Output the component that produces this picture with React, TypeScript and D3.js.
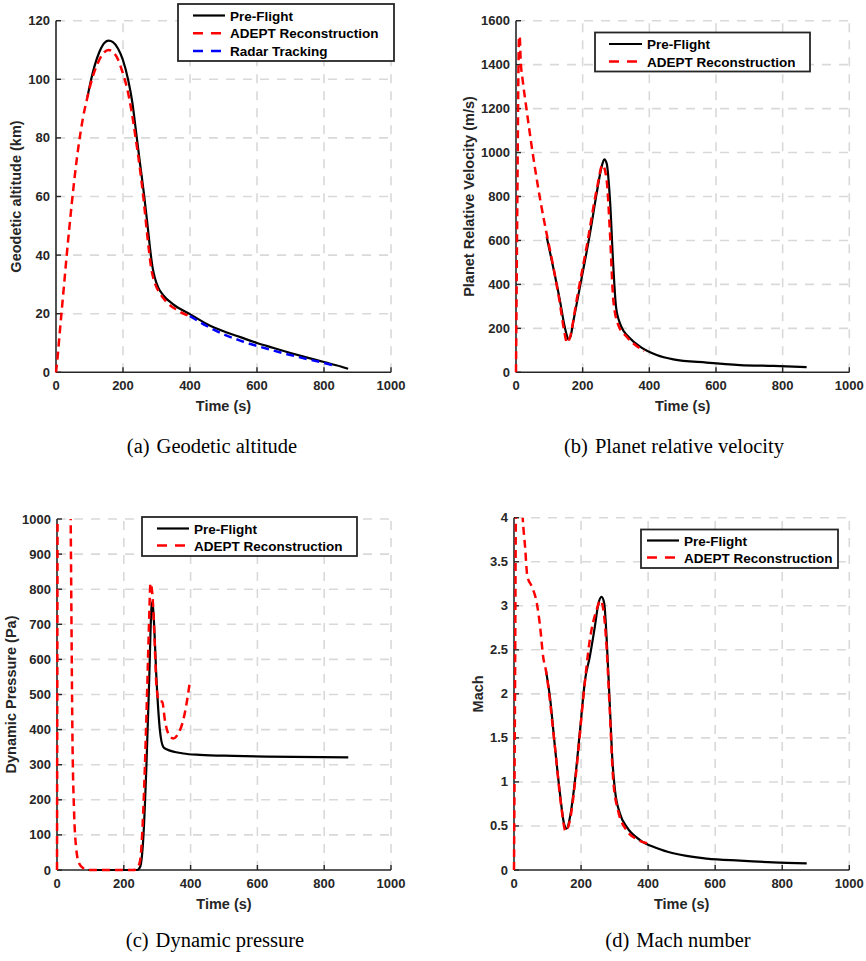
import React from 'react';
import * as d3 from 'd3';

type Pt = [number, number];

// ---------- Data ----------
const timeTicks = [0, 200, 400, 600, 800, 1000];
const altTicks = [0, 20, 40, 60, 80, 100, 120];
const velTicks = [0, 200, 400, 600, 800, 1000, 1200, 1400, 1600];
const presTicks = [0, 100, 200, 300, 400, 500, 600, 700, 800, 900, 1000];
const machTicks = [0, 0.5, 1, 1.5, 2, 2.5, 3, 3.5, 4];

const seriesNames = ['Pre-Flight', 'ADEPT Reconstruction', 'Radar Tracking'];

const altPreFlight: Pt[] = [
  [94, 94], [105, 100], [115, 104.5], [130, 109.5], [145, 112.5], [157, 113.2], [170, 112.7],
  [185, 110.5], [200, 106.5], [215, 100], [228, 92], [238, 83], [250, 72], [263, 60.5], [273, 50.5],
  [281, 42], [288, 36], [295, 32.3], [305, 29], [320, 26.3], [350, 23.2], [402, 19.7], [450, 16.5],
  [500, 14], [550, 12], [600, 10], [650, 8.3], [700, 6.6], [750, 5], [800, 3.5], [850, 2], [872, 1.2],
];
const altAdept: Pt[] = [
  [0, 0], [5, 5.5], [10, 12], [17, 21], [25, 31], [32, 40], [40, 49.5], [47, 57.5], [57, 68],
  [67, 77], [80, 86.5], [94, 94], [108, 100.3], [122, 104.8], [140, 108.7], [157, 110], [170, 109.3],
  [182, 107.5], [197, 103], [212, 97], [225, 89.5], [237, 80.5], [250, 70], [261, 59.5], [270, 49.5],
  [278, 41], [285, 35], [295, 30.5], [310, 27], [330, 24], [362, 21.2], [402, 19],
];
const altRadar: Pt[] = [
  [400, 19.2], [450, 15.8], [500, 13], [550, 10.8], [600, 9], [650, 7.4], [700, 5.9], [750, 4.5],
  [800, 3.2], [838, 2.1],
];

const velPreFlight: Pt[] = [
  [92, 617], [112, 475], [132, 325], [145, 215], [152, 170], [157, 150], [163, 160], [172, 232],
  [192, 390], [222, 632], [242, 814], [257, 936], [265, 969], [272, 951], [282, 784], [292, 481],
  [300, 299], [312, 223], [342, 155], [372, 117], [422, 79], [472, 59], [572, 44], [672, 33],
  [772, 29], [872, 24],
];
const velAdept: Pt[] = [
  [0, 0], [4, 780], [9, 1520], [11, 1530], [14, 1420], [20, 1330], [30, 1215], [45, 1050],
  [60, 900], [75, 765], [92, 630], [112, 480], [132, 310], [145, 185], [153, 135], [162, 160],
  [182, 329], [212, 572], [242, 830], [260, 943], [272, 875], [282, 632], [292, 329], [307, 215],
  [332, 162], [372, 109], [385, 97],
];

const presPreFlight: Pt[] = [
  [94, 0], [240, 0], [249, 9], [258, 85], [268, 304], [276, 541], [283, 750], [286, 764],
  [290, 712], [298, 541], [308, 399], [318, 351], [328, 344], [378, 332], [428, 328], [528, 325],
  [628, 323], [872, 321],
];
const presAdept: Pt[] = [
  [0, 0], [1, 600], [2, 1200], [10, 3000], [30, 3000], [38, 1400], [41, 1000], [43, 750],
  [46, 400], [51, 170], [57, 66], [66, 19], [79, 5], [95, 0], [229, 0], [240, 5], [249, 28],
  [258, 161], [268, 446], [275, 684], [280, 817], [286, 779], [291, 684], [298, 522], [306, 480],
  [315, 480], [323, 427], [333, 389], [348, 375], [363, 389], [378, 427], [388, 475], [398, 537],
];

const machPreFlight: Pt[] = [
  [95, 2.27], [107, 1.97], [122, 1.4], [137, 0.87], [149, 0.53], [157, 0.47], [167, 0.6],
  [182, 1.02], [197, 1.59], [212, 2.16], [226, 2.42], [241, 2.76], [251, 3.01], [261, 3.1],
  [269, 3.03], [276, 2.65], [286, 1.85], [294, 1.21], [301, 0.91], [316, 0.64], [336, 0.49],
  [376, 0.34], [425, 0.25], [475, 0.19], [575, 0.13], [674, 0.106], [773, 0.087], [873, 0.076],
];
const machAdept: Pt[] = [
  [0, 0], [3, 2], [6, 4.2], [12, 4.6], [20, 4.5], [26, 4.0], [33, 3.67], [40, 3.33], [53, 3.22],
  [68, 3.03], [78, 2.76], [87, 2.42], [95, 2.27], [122, 1.4], [141, 0.72], [154, 0.44], [167, 0.57],
  [187, 1.17], [207, 1.97], [226, 2.61], [246, 2.95], [258, 3.06], [266, 2.97], [276, 2.54],
  [286, 1.78], [296, 1.02], [310, 0.68], [336, 0.45], [366, 0.35], [400, 0.3],
];

const xLabel = 'Time (s)';
const yLabels = ['Geodetic altitude (km)', 'Planet Relative Velocity (m/s)', 'Dynamic Pressure (Pa)', 'Mach'];
const captionTags = ['(a)', '(b)', '(c)', '(d)'];
const captions = ['Geodetic altitude', 'Planet relative velocity', 'Dynamic pressure', 'Mach number'];

// ---------- Styles ----------
const SANS = '"Liberation Sans", Arial, Helvetica, sans-serif';
const SERIF = '"Liberation Serif", "Times New Roman", serif';
const AXIS = '#262626';
const GRID = '#d9d9d9';

const STYLE = [
  { color: '#000000', dash: undefined as string | undefined, width: 2.2, legDash: undefined as string | undefined },
  { color: '#ff0000', dash: '8,5', width: 2.5, legDash: '10,8' },
  { color: '#0000ff', dash: '8,5', width: 2.5, legDash: '10,8' },
];

interface PanelCfg {
  id: string;
  left: number; right: number; top: number; bottom: number;
  yDomain: [number, number];
  yTicks: number[];
  series: Pt[][];
  yLabel: string;
  yLabelX: number;
  xLabelY: number;
  legend: { x: number; y: number; w: number; h: number; row0: number; rowH: number; l1: number; l2: number; tx: number };
  caption: [string, string];
  captionX: number;
  captionY: number;
}

const panels: PanelCfg[] = [
  {
    id: 'a', left: 56, right: 391, top: 20.7, bottom: 372.3,
    yDomain: [0, 120], yTicks: altTicks, series: [altPreFlight, altAdept, altRadar],
    yLabel: yLabels[0], yLabelX: 16, xLabelY: 411,
    legend: { x: 178, y: 4, w: 216, h: 57, row0: 15.5, rowH: 17.8, l1: 15, l2: 47, tx: 52 },
    caption: [captionTags[0], captions[0]], captionX: 212, captionY: 452.5,
  },
  {
    id: 'b', left: 516, right: 849.3, top: 20.7, bottom: 372.3,
    yDomain: [0, 1600], yTicks: velTicks, series: [velPreFlight, velAdept],
    yLabel: yLabels[1], yLabelX: 469, xLabelY: 411,
    legend: { x: 595, y: 32.5, w: 215, h: 39, row0: 44, rowH: 17.5, l1: 14, l2: 47, tx: 52 },
    caption: [captionTags[1], captions[1]], captionX: 674, captionY: 452.5,
  },
  {
    id: 'c', left: 57, right: 391, top: 519, bottom: 870,
    yDomain: [0, 1000], yTicks: presTicks, series: [presPreFlight, presAdept],
    yLabel: yLabels[2], yLabelX: 11, xLabelY: 909,
    legend: { x: 142, y: 517, w: 215, h: 39, row0: 528.5, rowH: 17, l1: 15, l2: 47, tx: 52 },
    caption: [captionTags[2], captions[2]], captionX: 215, captionY: 946.5,
  },
  {
    id: 'd', left: 514, right: 849.3, top: 517.7, bottom: 870,
    yDomain: [0, 4], yTicks: machTicks, series: [machPreFlight, machAdept],
    yLabel: yLabels[3], yLabelX: 478, xLabelY: 909,
    legend: { x: 641, y: 529.5, w: 197, h: 38.5, row0: 540.5, rowH: 17, l1: 6, l2: 38, tx: 43 },
    caption: [captionTags[3], captions[3]], captionX: 678, captionY: 946.5,
  },
];

function Panel({ cfg }: { cfg: PanelCfg }) {
  const x = d3.scaleLinear().domain([0, 1000]).range([cfg.left, cfg.right]);
  const y = d3.scaleLinear().domain(cfg.yDomain).range([cfg.bottom, cfg.top]);
  const line = d3.line<Pt>().x((d) => x(d[0])).y((d) => y(d[1])).curve(d3.curveMonotoneX);
  const clipId = `clip-${cfg.id}`;
  const tickLen = 5;
  const lg = cfg.legend;
  const midY = (cfg.top + cfg.bottom) / 2;
  const midX = (cfg.left + cfg.right) / 2;

  return (
    <g>
      <defs>
        <clipPath id={clipId}>
          <rect x={cfg.left - 3} y={cfg.top} width={cfg.right - cfg.left + 6} height={cfg.bottom - cfg.top + 3} />
        </clipPath>
      </defs>
      {/* grid */}
      {cfg.yTicks.filter((t) => t !== cfg.yDomain[0]).map((t) => (
        <line key={`gy${t}`} x1={cfg.left} x2={cfg.right} y1={y(t)} y2={y(t)}
          stroke={GRID} strokeWidth={1.6} strokeDasharray="9,8" />
      ))}
      {timeTicks.filter((t) => t !== 0).map((t) => (
        <line key={`gx${t}`} x1={x(t)} x2={x(t)} y1={cfg.bottom} y2={cfg.top}
          stroke={GRID} strokeWidth={1.6} strokeDasharray="9,8" />
      ))}
      {/* axes */}
      <line x1={cfg.left} x2={cfg.right} y1={cfg.bottom} y2={cfg.bottom} stroke={AXIS} strokeWidth={1.6} />
      <line x1={cfg.left} x2={cfg.left} y1={cfg.bottom} y2={cfg.top} stroke={AXIS} strokeWidth={1.6} />
      {timeTicks.map((t) => (
        <g key={`xt${t}`}>
          <line x1={x(t)} x2={x(t)} y1={cfg.bottom} y2={cfg.bottom - tickLen} stroke={AXIS} strokeWidth={1.4} />
          <text x={x(t)} y={cfg.bottom + 18} textAnchor="middle" fontFamily={SANS} fontWeight="bold"
            fontSize={13} fill={AXIS}>{t}</text>
        </g>
      ))}
      {cfg.yTicks.map((t) => (
        <g key={`yt${t}`}>
          <line x1={cfg.left} x2={cfg.left + tickLen} y1={y(t)} y2={y(t)} stroke={AXIS} strokeWidth={1.4} />
          <text x={cfg.left - 6} y={y(t) + 4.5} textAnchor="end" fontFamily={SANS} fontWeight="bold"
            fontSize={13} fill={AXIS}>{t}</text>
        </g>
      ))}
      <text x={midX} y={cfg.xLabelY} textAnchor="middle" fontFamily={SANS} fontWeight="bold"
        fontSize={14.5} fill={AXIS}>{xLabel}</text>
      <text transform={`translate(${cfg.yLabelX},${midY}) rotate(-90)`} textAnchor="middle"
        dominantBaseline="central" fontFamily={SANS} fontWeight="bold" fontSize={14.5} fill={AXIS}>
        {cfg.yLabel}
      </text>
      {/* series */}
      <g clipPath={`url(#${clipId})`}>
        {cfg.series.map((s, i) => (
          <path key={`s${i}`} d={line(s) || ''} fill="none" stroke={STYLE[i].color}
            strokeWidth={STYLE[i].width} strokeDasharray={STYLE[i].dash} strokeLinejoin="round" />
        ))}
      </g>
      {/* legend */}
      <rect x={lg.x} y={lg.y} width={lg.w} height={lg.h} fill="#ffffff" stroke={AXIS} strokeWidth={1.8} />
      {cfg.series.map((_, i) => (
        <g key={`lg${i}`}>
          <line x1={lg.x + lg.l1} x2={lg.x + lg.l2} y1={lg.row0 + i * lg.rowH} y2={lg.row0 + i * lg.rowH}
            stroke={STYLE[i].color} strokeWidth={STYLE[i].width} strokeDasharray={STYLE[i].legDash} />
          <text x={lg.x + lg.tx} y={lg.row0 + i * lg.rowH + 5} fontFamily={SANS} fontWeight="bold"
            fontSize={13.5} fill="#000">{seriesNames[i]}</text>
        </g>
      ))}
      {/* caption */}
      <text x={cfg.captionX} y={cfg.captionY} textAnchor="middle" fontFamily={SERIF} fontSize={20.5} fill="#000">
        <tspan>{cfg.caption[0]}</tspan>
        <tspan dx={7}>{cfg.caption[1]}</tspan>
      </text>
    </g>
  );
}

export default function App() {
  return (
    <svg width={866} height={961} style={{ display: 'block', position: 'absolute', left: 0, top: 0 }}
      xmlns="http://www.w3.org/2000/svg">
      <rect x={0} y={0} width={866} height={961} fill="#ffffff" />
      {panels.map((p) => (
        <Panel key={p.id} cfg={p} />
      ))}
    </svg>
  );
}
